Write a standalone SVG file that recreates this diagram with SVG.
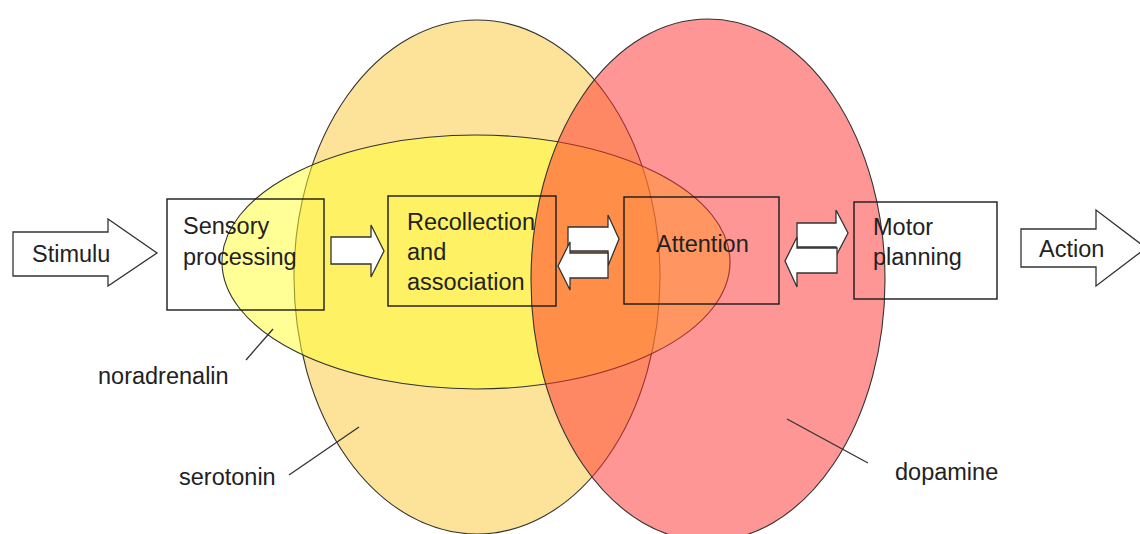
<svg xmlns="http://www.w3.org/2000/svg" width="1140" height="534" viewBox="0 0 1140 534">
<style>
text{font-family:"Liberation Sans",Arial,sans-serif;font-size:23.5px;fill:#222}
.box{fill:none;stroke:#1a1a1a;stroke-width:1.4}
.arr{fill:#fff;stroke:#333;stroke-width:1.3;stroke-linejoin:miter}
.ell{stroke:#333;stroke-width:1.1}
.lead{stroke:#333;stroke-width:1.3;fill:none}
</style>
<rect width="1140" height="534" fill="#fff"/>
<g id="serotonin">
<ellipse class="ell" cx="477" cy="277" rx="183" ry="257" fill="#F9C834" fill-opacity="0.5"/>
<line class="lead" x1="289" y1="475" x2="359" y2="427"/>
<text x="179" y="485">serotonin</text>
</g>
<g id="noradrenalin">
<ellipse class="ell" cx="476" cy="262" rx="254" ry="127" fill="#FFFF2D" fill-opacity="0.5"/>
<line class="lead" x1="246" y1="360" x2="273" y2="329"/>
<text x="98" y="384">noradrenalin</text>
</g>
<g id="dopamine">
<ellipse class="ell" cx="708" cy="280" rx="177" ry="261" fill="#FF2D2D" fill-opacity="0.5"/>
<line class="lead" x1="787" y1="419" x2="868" y2="463"/>
<text x="895" y="480">dopamine</text>
</g>
<g id="stimulus">
<path class="arr" d="M13,232 H108 V219 L157,253 L108,286 V276 H13 Z"/>
<text x="32" y="262">Stimulu</text>
</g>
<g id="sensory">
<rect class="box" x="167" y="199" width="157" height="111"/>
<text x="183" y="234">Sensory</text>
<text x="183" y="265">processing</text>
</g>
<g id="recollection">
<rect class="box" x="388" y="196" width="168" height="110"/>
<text x="407" y="230">Recollection</text>
<text x="407" y="260">and</text>
<text x="407" y="290">association</text>
</g>
<g id="attention">
<rect class="box" x="624" y="197" width="155" height="107"/>
<text x="656" y="252">Attention</text>
</g>
<g id="motor">
<rect class="box" x="854" y="202" width="143" height="97"/>
<text x="873" y="235">Motor</text>
<text x="873" y="265">planning</text>
</g>
<g id="action">
<path class="arr" d="M1021,229 H1096 V210 L1146,248 L1096,286 V267 H1021 Z"/>
<text x="1039" y="257">Action</text>
</g>
<g id="connectors">
<path class="arr" d="M331,237 H371 V225 L384,251 L371,277 V264 H331 Z"/>
<path class="arr" d="M568,227 H608 V215 L619,239 L608,266 V251 H568 Z"/>
<path class="arr" d="M608,253 H570 V242 L558,266 L570,290 V278 H608 Z"/>
<path class="arr" d="M797,223 H836 V210 L848,233 L836,256 V247 H797 Z"/>
<path class="arr" d="M837,248 H797 V237 L785,261 L797,287 V273 H837 Z"/>
</g>
</svg>
